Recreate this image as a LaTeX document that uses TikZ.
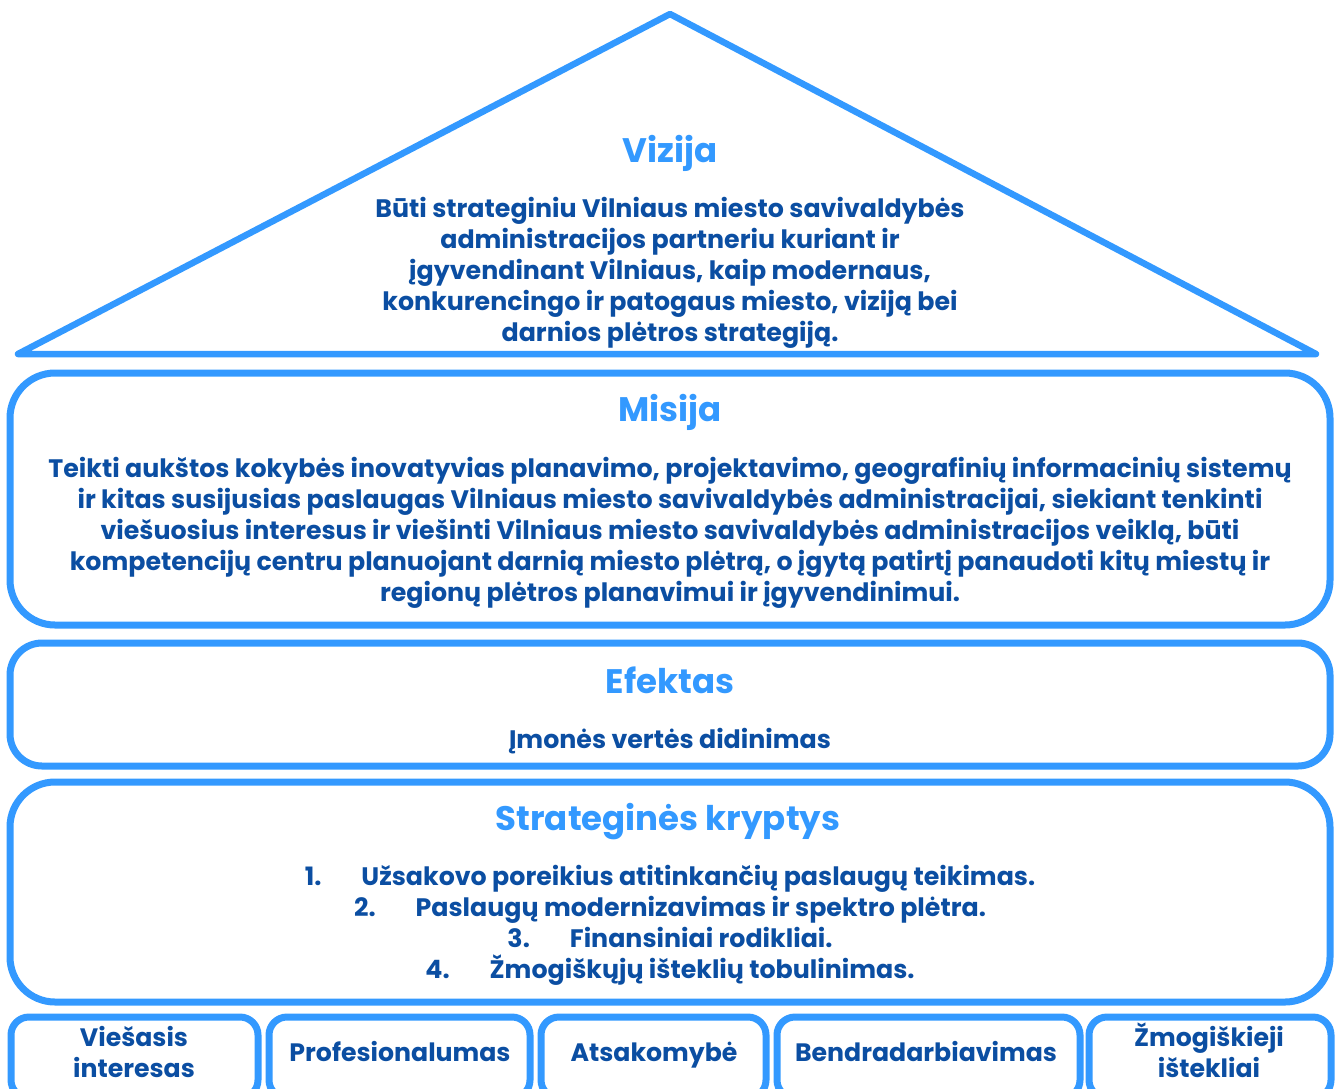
\documentclass[tikz,border=0pt]{standalone}
\usepackage{fontspec}
\setmainfont{Poppins}
\definecolor{frameblue}{HTML}{3399FF}
\definecolor{headblue}{HTML}{3399FF}
\definecolor{txtblue}{HTML}{0B4EA2}
\begin{document}
\begin{tikzpicture}[x=1pt,y=-1pt,
  roof/.style={draw=frameblue, line width=6.5pt, line join=round},
  panel/.style={draw=frameblue, line width=7pt, rounded corners=#1},
  heading/.style={anchor=base, inner sep=0pt, text=headblue, font=\bfseries\fontsize{34}{40}\selectfont},
  body/.style={anchor=base, inner sep=0pt, align=center, text=txtblue, font=\bfseries\fontsize{25.3}{31}\selectfont},
  label/.style={anchor=base, inner sep=0pt, align=center, text=txtblue, font=\bfseries\fontsize{25.2}{31}\selectfont}]
\useasboundingbox (0,0) rectangle (1340,1088);
\begin{scope}
\clip (0,0) rectangle (1340,1088);
% roof
\draw[roof] (670,14) -- (1316,354) -- (18,354) -- cycle;
% panels
\draw[panel=45] (10,373) rectangle (1330,625);
\draw[panel=32] (10,643) rectangle (1330,766);
\draw[panel=45] (10,782) rectangle (1330,1002);
\draw[panel=18] (11,1017) rectangle (258,1098);
\draw[panel=18] (269,1017) rectangle (530,1098);
\draw[panel=18] (541,1017) rectangle (766,1098);
\draw[panel=18] (777,1017) rectangle (1080,1098);
\draw[panel=18] (1089,1017) rectangle (1331,1098);
\end{scope}
% Vizija
\node[heading] (vh) at (670,162) {Vizija};
\node[body] (vt) at (670,341) {Būti strateginiu Vilniaus miesto savivaldybės\\administracijos partneriu kuriant ir\\įgyvendinant Vilniaus, kaip modernaus,\\konkurencingo ir patogaus miesto, viziją bei\\darnios plėtros strategiją.};
% Misija
\node[heading] (mh) at (670,421) {Misija};
\node[body] (mt) at (670,601) {Teikti aukštos kokybės inovatyvias planavimo, projektavimo, geografinių informacinių sistemų\\ir kitas susijusias paslaugas Vilniaus miesto savivaldybės administracijai, siekiant tenkinti\\viešuosius interesus ir viešinti Vilniaus miesto savivaldybės administracijos veiklą, būti\\kompetencijų centru planuojant darnią miesto plėtrą, o įgytą patirtį panaudoti kitų miestų ir\\regionų plėtros planavimui ir įgyvendinimui.};
% Efektas
\node[heading] (eh) at (670,693) {Efektas};
\node[body] (et) at (670,748) {Įmonės vertės didinimas};
% Strateginės kryptys
\node[heading] (sh) at (668,830) {Strateginės kryptys};
\node[body] (st) at (670,978) {1.\hspace{40pt}Užsakovo poreikius atitinkančių paslaugų teikimas.\\2.\hspace{40pt}Paslaugų modernizavimas ir spektro plėtra.\\3.\hspace{40pt}Finansiniai rodikliai.\\4.\hspace{40pt}Žmogiškųjų išteklių tobulinimas.};
% values
\node[label] (v1) at (134,1077) {Viešasis\\interesas};
\node[label] (v2) at (400,1061) {Profesionalumas};
\node[label] (v3) at (654,1061) {Atsakomybė};
\node[label] (v4) at (926,1061) {Bendradarbiavimas};
\node[label] (v5) at (1209,1077) {Žmogiškieji\\ištekliai};
\end{tikzpicture}
\end{document}
